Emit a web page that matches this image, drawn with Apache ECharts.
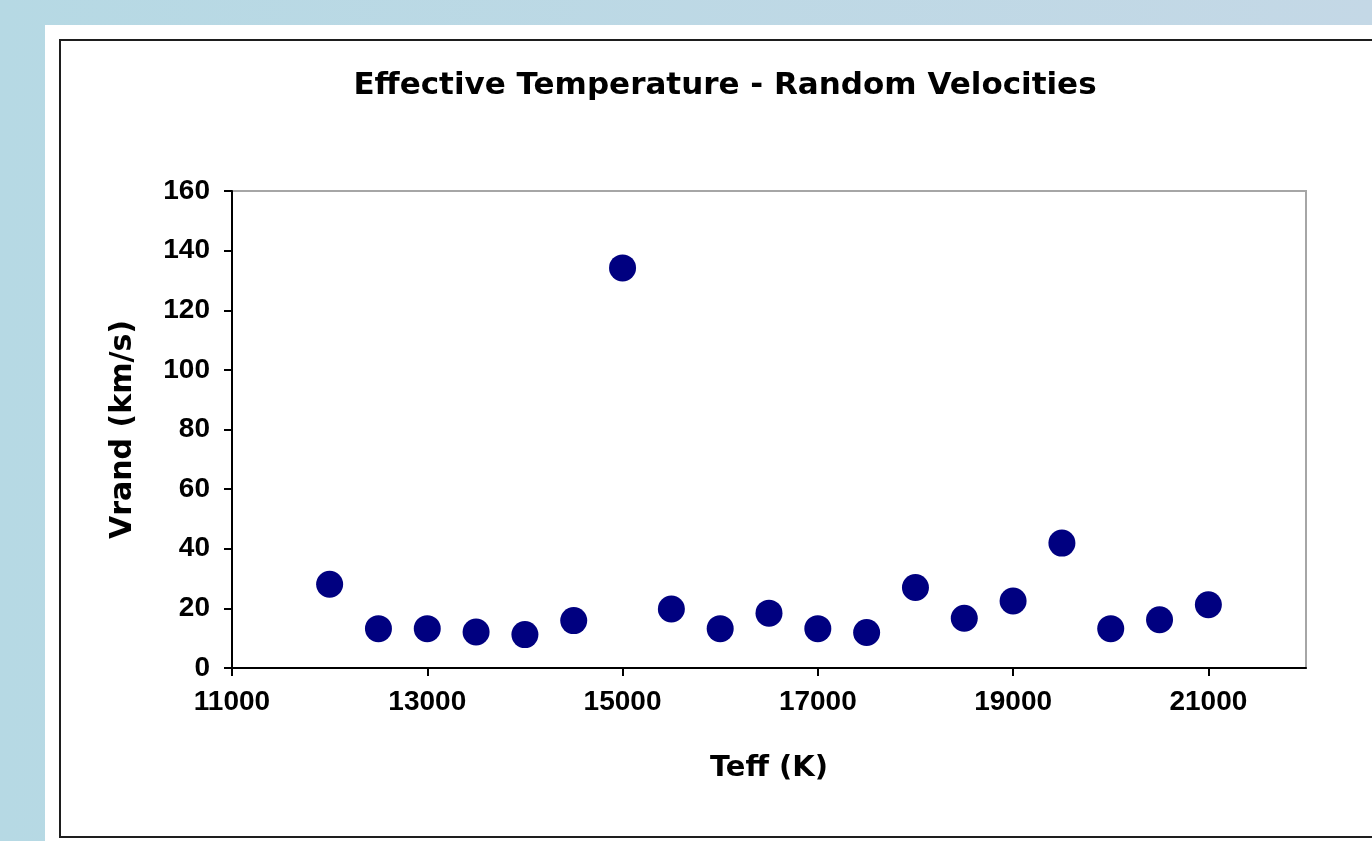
<!DOCTYPE html>
<html>
<head>
<meta charset="utf-8">
<script src="https://cdn.jsdelivr.net/npm/echarts@6/dist/echarts.min.js"></script>
<style>
  html, body { margin: 0; padding: 0; width: 1372px; height: 841px; overflow: hidden; }
  body { background: linear-gradient(to right, #b6d9e4, #c4d8e6); position: relative; }
  #panel { position: absolute; left: 45px; top: 25px; right: 0; bottom: 0; background: #ffffff; }
  #frame { position: absolute; left: 59px; top: 39px; right: -20px; bottom: 3px; border: 2px solid #1e1e1e; }
  #chart { position: absolute; left: 0; top: 0; width: 1372px; height: 841px; }
</style>
</head>
<body>
<div id="panel"></div>
<div id="frame"></div>
<div id="chart"></div>
<script>
// Data
const teff = [12000, 12500, 13000, 13500, 14000, 14500, 15000, 15500, 16000, 16500,
              17000, 17500, 18000, 18500, 19000, 19500, 20000, 20500, 21000];
const vrand = [28.1, 13.2, 13.2, 12.1, 11.2, 15.9, 134.2, 19.8, 13.2, 18.4,
               13.2, 11.9, 27.0, 16.7, 22.5, 41.9, 13.2, 16.2, 21.2];
const xTicks = [11000, 13000, 15000, 17000, 19000, 21000];
const yTicks = [0, 20, 40, 60, 80, 100, 120, 140, 160];
const titleText = 'Effective Temperature - Random Velocities';
const xName = 'Teff (K)';
const yName = 'Vrand (km/s)';

const points = teff.map((t, i) => [t, vrand[i]]);

const chart = echarts.init(document.getElementById('chart'), null, { renderer: 'canvas' });
chart.setOption({
  animation: false,
  backgroundColor: 'transparent',
  title: {
    text: titleText,
    left: 720,
    top: 65,
    textAlign: 'center',
    textStyle: { fontFamily: 'DejaVu Sans', fontWeight: 'bold', fontSize: 31, color: '#000' }
  },
  grid: {
    left: 232, top: 191, right: 66, bottom: 173,
    show: true, borderColor: '#a6a6a6', borderWidth: 2, backgroundColor: '#fff'
  },
  xAxis: {
    type: 'value',
    min: 11000, max: 22000,
    name: xName,
    nameLocation: 'middle',
    nameGap: 86,
    nameTextStyle: { fontFamily: 'DejaVu Sans', fontWeight: 'bold', fontSize: 29, color: '#000' },
    axisLine: { show: true, onZero: false, lineStyle: { color: '#000', width: 2 } },
    axisTick: { show: true, inside: false, length: 8, lineStyle: { color: '#000', width: 2 }, customValues: xTicks },
    axisLabel: {
      customValues: xTicks, margin: 20,
      formatter: v => String(v),
      fontFamily: 'Liberation Sans', fontWeight: 'bold', fontSize: 28, color: '#000'
    },
    splitLine: { show: false }
  },
  yAxis: {
    type: 'value',
    min: 0, max: 160, interval: 20,
    name: yName,
    nameLocation: 'middle',
    nameGap: 94,
    nameTextStyle: { fontFamily: 'DejaVu Sans', fontWeight: 'bold', fontSize: 30, color: '#000' },
    axisLine: { show: true, lineStyle: { color: '#000', width: 2 } },
    axisTick: { show: true, inside: false, length: 8, lineStyle: { color: '#000', width: 2 }, customValues: yTicks },
    axisLabel: {
      customValues: yTicks, margin: 22,
      formatter: v => String(v),
      fontFamily: 'Liberation Sans', fontWeight: 'bold', fontSize: 28, color: '#000'
    },
    splitLine: { show: false }
  },
  series: [{
    type: 'scatter',
    data: points,
    symbol: 'circle',
    symbolSize: 27,
    itemStyle: { color: '#000080', opacity: 1 }
  }]
});
</script>
</body>
</html>
